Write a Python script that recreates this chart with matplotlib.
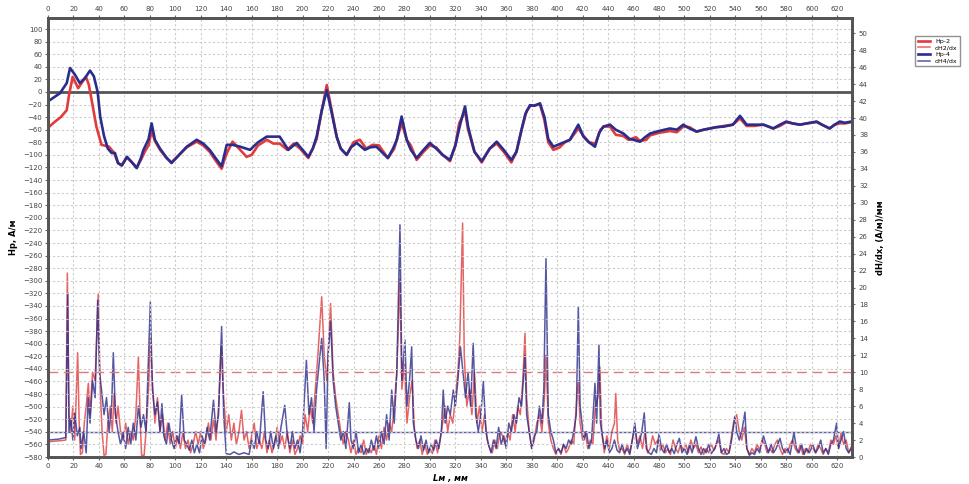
import numpy as np
import matplotlib
matplotlib.use("Agg")
import matplotlib.pyplot as plt

# Hp-2 (red): x in mm, Hp in A/m
hp2_x = [0, 5, 10, 14.7, 16.5, 19.4, 23.7, 27, 29.8, 32, 34.3, 38, 42, 48, 52, 55, 58, 62, 66, 69.7,
         73, 76, 79, 81.4, 84, 88, 93, 97, 103, 109, 116.8, 122, 127, 132, 136.4, 139, 141, 145, 150, 156,
         160, 165, 172, 177, 182, 188, 193, 198, 204.5, 208, 211, 215, 219, 222, 226.8, 230, 234.6, 240, 245, 250,
         255, 260, 267, 272, 276, 278, 281.8, 285, 289.6, 295, 300, 305, 310, 315.8, 320, 323, 327.6, 330, 335, 340.7,
         347, 352.5, 358, 364, 368, 372, 376, 379, 386.5, 390, 393, 397, 402, 406, 410, 416.6, 420, 425, 430, 434,
         437, 441.5, 446, 452, 456, 462, 465, 470, 473, 480, 488.6, 494, 499, 504, 509.5, 515, 520, 525, 531, 538,
         543.6, 548.8, 555, 562, 569.7, 575, 580, 585, 590.7, 596, 603.8, 608, 614, 618, 622, 626, 631]
hp2_y = [-57, -48, -40, -29, -5, 24, 6, 16, 24, 12, -13, -55, -84, -87, -97, -113, -116, -104, -112, -120,
         -108, -95, -85, -62, -78, -92, -105, -112, -100, -88, -79, -85, -95, -110, -122, -105, -95, -79, -90, -103,
         -100, -85, -76, -82, -82, -92, -82, -90, -105, -90, -75, -30, 11, -20, -72, -90, -100, -80, -76, -90,
         -84, -85, -105, -90, -62, -50, -76, -85, -108, -95, -85, -88, -100, -110, -85, -50, -30, -60, -95, -112,
         -90, -82, -95, -112, -95, -60, -30, -22, -20, -45, -80, -92, -88, -80, -76, -58, -68, -80, -82, -60,
         -55, -55, -68, -70, -76, -72, -78, -76, -69, -65, -62, -64, -55, -56, -63, -60, -58, -56, -54, -52,
         -42, -54, -54, -52, -58, -54, -48, -50, -52, -50, -48, -52, -58, -52, -50, -50, -48]

# Hp-4 (blue)
hp4_x = [0, 5, 9.4, 14.7, 17.3, 21, 25, 29, 33, 36, 39, 41, 44, 47, 50, 52.6, 55, 58, 62, 66,
         69.7, 73, 75, 79, 81.4, 84, 88, 93, 97, 103, 109, 116.8, 122, 127, 132, 136.4, 138.5, 140.4, 145, 151,
         158.7, 165, 171.8, 177, 182, 188.8, 195.3, 200, 204.5, 208, 211, 215, 219, 222, 226.8, 230, 234.6, 238, 242.5, 249,
         253, 258, 262, 267, 271, 274, 277.8, 281.8, 285, 289.6, 295, 300, 305, 310, 315.8, 320, 324, 327.6, 330, 335,
         340.7, 347, 352.5, 358, 364, 368, 372, 375, 378.6, 382, 386.5, 390, 393, 397, 403, 410, 413, 416.6, 420.6, 425,
         429.7, 433, 436.2, 441.5, 446, 452, 457, 460, 465, 469, 473, 480, 488.6, 494, 499, 504, 509.5, 515, 520, 525,
         531, 538, 543.6, 548.8, 555, 562, 566, 569.7, 575, 580, 585, 590.7, 596, 603.8, 608, 614, 618, 622, 626, 631]
hp4_y = [-15, -8, -2, 14, 38, 28, 14, 22, 34, 25, 0, -39, -70, -90, -97, -97, -113, -117, -103, -112,
         -121, -105, -92, -75, -50, -76, -90, -104, -113, -100, -87, -76, -82, -92, -106, -118, -100, -84, -84, -87,
         -92, -80, -71, -71, -71, -92, -81, -92, -103, -90, -71, -30, 3, -25, -71, -90, -100, -88, -81, -92,
         -88, -87, -95, -105, -90, -76, -39, -76, -92, -105, -92, -81, -90, -100, -108, -85, -50, -23, -55, -95,
         -110, -90, -79, -92, -108, -95, -60, -35, -21, -22, -18, -40, -75, -87, -82, -76, -65, -52, -71, -80,
         -87, -65, -55, -52, -60, -66, -75, -76, -79, -72, -66, -62, -58, -60, -52, -58, -63, -60, -58, -56,
         -55, -52, -38, -52, -52, -52, -55, -58, -52, -47, -50, -52, -50, -47, -52, -58, -52, -47, -49, -47]

# dH2/dx (red), (A/m)/mm
d2_x = [0, 8, 14, 15.2, 16.5, 18, 19.5, 21, 23.3, 24.5, 25.5, 27, 28.5, 30, 31.7, 33, 35, 37, 39.5, 41,
        42.5, 44, 45.5, 47, 49, 50.5, 52, 53.5, 55, 57, 59, 61, 63, 65, 67, 69, 71, 72.5, 73.5, 75.5,
        77, 79, 80.4, 82, 84, 86, 88, 90, 92, 94, 96, 98, 100, 102, 104, 106, 108, 110, 112, 114,
        116, 118, 120, 122, 124, 126, 128, 130, 132, 134, 136, 138, 140, 142, 144, 146, 148, 150, 152, 154,
        156, 158, 160, 162, 164, 166, 168, 170, 172, 174, 176, 178, 180, 182, 184, 186, 188, 190, 192, 194,
        196, 198, 200, 202, 204, 206, 208, 210, 212, 215, 217, 219, 222, 224, 226, 228, 230, 232, 234, 236,
        238, 240, 242, 244, 246, 248, 250, 252, 254, 256, 258, 260, 262, 264, 266, 268, 270, 272, 274, 276.5,
        278, 280, 282, 284, 286, 288, 290, 292, 294, 296, 298, 300, 302, 304, 306, 308, 310, 312, 314, 316,
        318, 320, 322, 323.5, 325.7, 327, 329, 331, 333, 335, 337, 339, 341, 343, 345, 347, 349, 351, 353, 355,
        357, 359, 361, 363, 365, 367, 369, 371, 373, 374.7, 376, 378, 380, 382, 384, 386, 388, 390, 391.2, 393,
        395, 397, 399, 401, 403, 405, 407, 409, 411, 413, 415, 416.6, 418, 420, 422, 424, 426, 428, 430, 432,
        433.5, 435, 437, 439, 441, 443, 445, 446, 447.5, 449, 451, 453, 455, 457, 459, 461, 463, 465, 467, 469,
        471, 473, 475, 477, 479, 481, 483, 485, 487, 489, 491, 493, 495, 497, 499, 501, 503, 505, 507, 509,
        511, 513, 515, 517, 519, 521, 523, 525, 527, 529, 531, 533, 535, 537, 539, 541, 543, 545, 547, 549,
        551, 553, 555, 557, 559, 561, 563, 565, 567, 569, 571, 573, 575, 577, 579, 581, 583, 585, 587, 589,
        591, 593, 595, 597, 599, 601, 603, 605, 607, 609, 611, 613, 615, 617, 619, 621, 623, 625, 627, 629, 631]
d2_y = [1.8, 1.9, 2.0, 21.7, 5, 3, 6, 2, 12.3, 4, 0.3, 0.5, 4, 6, 8.7, 5, 10, 9, 19.3, 8,
        3, 0.2, 0.3, 4, 6, 3, 7.5, 4, 6, 3, 2, 4, 1.5, 3, 2, 5, 11.8, 4, 0.2, 0.2,
        3, 8, 14, 9, 4, 7, 3, 5, 2, 4, 1.5, 3, 1, 2.5, 1, 3, 1, 2, 0.5, 1.5,
        3, 1.5, 3, 1, 2, 4, 2, 4.5, 2, 6, 13, 7, 3, 5, 2, 4, 1.5, 3, 5.5, 2,
        3, 1, 2.5, 4, 1, 2, 1, 3, 0.5, 2, 0.5, 1.5, 3.5, 1.5, 2.5, 1, 3, 0.5, 2, 0.3,
        1, 2.5, 1.5, 5, 3, 6, 4, 8, 12, 18.9, 12, 9, 18.1, 10, 7, 5, 3, 1.5, 3, 2,
        0.5, 2, 0.3, 1, 0.5, 2, 0.3, 1, 0.5, 1.5, 0.3, 2.5, 1, 3.5, 2, 4, 3, 6, 10, 21,
        8, 11, 4, 7, 9, 3, 1, 2, 0.3, 1.5, 0.3, 1, 0.4, 2, 0.5, 2, 4, 6, 3, 5,
        4, 7, 10, 14, 27.6, 12, 6, 8, 5, 10, 4, 6, 3, 5, 2, 1, 0.5, 2, 1, 3,
        2.5, 1.5, 3, 2, 5, 3, 6, 5, 9, 14.6, 7, 3, 1, 2, 4, 5, 3, 7, 12, 4,
        2, 1, 0.3, 1, 0.3, 1.5, 0.5, 1, 2, 1.5, 6, 9, 4, 2, 3, 1, 2, 1.5, 6, 7,
        10.6, 3, 0.5, 2.5, 1, 3, 4, 7.5, 2, 0.8, 1, 0.3, 1.5, 0.5, 2, 3.5, 1.5, 2.5, 1, 3,
        0.5, 1, 2.5, 1.5, 2, 0.8, 1.5, 0.5, 1, 0.3, 2, 1, 0.5, 1.5, 0.8, 1.5, 0.5, 2, 1, 1.5,
        0.5, 1.2, 0.3, 1, 0.5, 1.5, 0.8, 1.5, 2, 0.5, 0.3, 1, 0.5, 2.5, 4.5, 5.0, 3, 2, 3.5, 1,
        0.3, 1, 0.5, 1.5, 0.8, 2, 1.5, 0.5, 1, 0.5, 1.5, 2, 1, 0.3, 1, 0.5, 1.5, 2, 1, 0.5,
        1.5, 0.3, 1, 0.5, 1.5, 1, 0.5, 1.5, 1, 0.3, 1, 0.5, 2, 1.5, 2.5, 1, 2.8, 1.5, 2, 0.5, 1.2]

# dH4/dx (blue)
d4_x = [0, 8, 14, 15.5, 16.5, 18, 19.5, 21, 23, 25, 26, 28, 30, 31.5, 33, 35, 37, 39, 40.5, 42,
        44, 46, 48, 50, 51.3, 53, 55, 57, 59, 61, 63, 65, 67, 69, 71, 73, 75, 77, 80.4, 82,
        84, 86, 88, 89.5, 91, 93, 95, 97, 99, 101, 103, 105, 107, 109, 111, 113, 115, 117, 119, 121,
        123, 125, 127, 130, 132, 134, 136.4, 138, 140, 143, 146, 150, 154, 158, 160, 162, 164, 166, 169, 171,
        173, 175, 177, 179, 181, 183, 186, 188, 190, 192, 194, 196, 198, 200, 203, 205, 207, 209, 211, 213,
        215, 217, 218.5, 220, 222, 224, 226, 228, 230, 232, 234, 236.7, 238, 240, 242, 244, 246, 248, 250, 252,
        254, 256, 258, 260, 262, 264, 266, 268, 270, 272, 274, 276.5, 278, 280.4, 282, 284, 285.7, 287, 289, 291,
        293, 295, 297, 299, 301, 303, 305, 307, 309, 310.5, 312, 314, 316, 318.4, 320, 322, 324, 326, 328, 330,
        332, 334, 336, 338, 340, 342, 344, 346, 348, 350, 352, 354, 356, 358, 360, 362, 364, 366, 368, 370,
        372, 374.7, 376, 378, 380, 382, 384, 386, 388, 389.5, 391.2, 393, 395, 397, 399, 401, 403, 405, 407, 409,
        411, 413, 415, 416.6, 418, 419.5, 421, 423, 425, 427, 429.7, 431, 432.8, 434, 436, 437.5, 439, 441, 443, 445,
        447, 449, 451, 453, 455, 457, 459, 461, 463, 465, 466.5, 468.4, 470, 472, 474, 476, 478, 480, 482, 484,
        486, 488, 490, 492, 494, 496, 498, 500, 502, 504, 506, 509, 511, 513, 515, 517, 519, 521, 524, 527,
        529, 531, 533, 535, 537, 539.7, 541, 543, 545, 547.5, 549, 551, 553, 555, 557, 559, 562, 564, 566, 568,
        570, 572, 575, 577, 579, 581, 583, 586, 588, 590, 592, 594, 596, 598, 601, 603, 605, 607, 609, 611,
        613, 615, 617, 619.5, 621, 623, 625, 627, 629, 631]
d4_y = [2.0, 2.1, 2.3, 19.3, 3, 4.5, 2, 5.2, 2.5, 3.5, 1.0, 3, 0.5, 7, 4, 9, 7, 18.5, 10, 8,
        5, 7, 3, 6, 12.3, 5, 3, 1.5, 2.8, 1, 3.5, 1.5, 4, 2, 6, 3.5, 5, 3, 18.3, 8,
        5, 6.5, 3, 6.3, 2.5, 1.5, 4, 2, 1, 2.5, 1.5, 7.3, 2, 1.5, 0.8, 2, 0.5, 1.5, 0.5, 2.5,
        1.5, 3.5, 2, 6.7, 3, 5, 15.4, 5, 0.4, 0.3, 0.6, 0.3, 0.5, 0.3, 2, 1, 3, 1.5, 7.7, 2,
        1, 3, 1, 2.5, 1, 3.5, 6.1, 2.5, 1, 3, 1, 2, 0.5, 3, 11.4, 5, 7, 3, 8, 11,
        14, 9, 1.0, 12, 16, 9, 6, 4, 2, 3, 1, 6.4, 2, 1, 3, 0.5, 1.5, 0.3, 1, 0.5,
        2, 0.8, 2.5, 1, 3, 1.5, 5, 2, 7.9, 4, 10, 27.4, 9, 13.8, 6, 9, 13, 4, 2, 1,
        2.5, 0.8, 2, 0.5, 1.5, 0.8, 2, 1, 3, 7.9, 4, 6, 5, 7.9, 6, 9, 13, 10, 7, 10,
        6, 13.4, 5, 3, 5, 8.9, 3, 1.5, 0.5, 2, 1, 3.5, 1.5, 2.5, 1, 4, 3, 5, 4, 7,
        6, 12, 5, 3, 1, 2.5, 3, 6, 4, 8, 23.4, 5, 3, 2, 0.5, 1, 0.5, 1.5, 1, 2,
        1.5, 3, 5, 17.7, 6, 4, 2, 3, 1, 2, 8.7, 4, 13.2, 4, 2, 1, 2, 0.5, 1, 2,
        0.8, 0.5, 1.5, 0.5, 1, 0.3, 2, 4, 1, 2, 3, 5.2, 1, 0.5, 0.3, 1, 0.5, 2.7, 1, 0.5,
        1.5, 0.5, 1, 0.4, 1.5, 2.2, 0.5, 1, 0.3, 1.5, 0.5, 2.4, 1, 0.3, 1, 0.5, 1.5, 0.4, 1, 2.7,
        0.5, 1, 0.3, 0.5, 2, 4.8, 3, 2, 3, 5.3, 1, 0.2, 0.5, 0.3, 1, 0.5, 2.5, 1.5, 0.5, 1.5,
        0.5, 1, 2.2, 1, 0.5, 1, 0.3, 2.9, 1, 0.5, 1.5, 0.3, 1, 0.5, 1.4, 0.5, 1, 2, 0.5, 1,
        0.3, 1.5, 2, 4.0, 1, 2, 3, 1, 0.5, 1]

# reference levels
h_zero = 0
d2_level = 10
d4_level = 2.9

x_ticks = np.arange(0, 621, 20)
h_ticks = np.arange(-580, 101, 20)
d_ticks = np.arange(0, 51, 2)

red = "#e03c3c"
blue = "#2a2d8c"

plt.rcParams["font.family"] = "DejaVu Sans"
fig = plt.figure(figsize=(9.7, 4.84), dpi=100)
ax = fig.add_axes([48 / 970, 1 - 457 / 484, (852 - 48) / 970, (457 - 18) / 484])
ax2 = ax.twinx()

ax.set_xlim(0, 631.6)
ax.set_ylim(-580, 117.5)
ax2.set_ylim(0, 51.8)

ax.set_xticks(x_ticks)
ax.set_yticks(h_ticks)
ax2.set_yticks(d_ticks)
ax.tick_params(labelsize=5, length=2, color="#666666", labelcolor="#444444",
               top=True, labeltop=True, pad=2)
ax2.tick_params(labelsize=5, length=2, color="#666666", labelcolor="#444444", pad=3)

ax.grid(True, color="#cccccc", linestyle=(0, (2, 2)), linewidth=0.8)
ax.set_axisbelow(True)
for a in (ax, ax2):
    for s in a.spines.values():
        s.set_linewidth(2)
        s.set_color("#555555")

# derivative curves and levels (right axis)
ax2.plot(d2_x, d2_y, color=red, lw=1.1, alpha=0.8, label="dH2/dx")
ax2.plot(d4_x, d4_y, color=blue, lw=1.1, alpha=0.8, label="dH4/dx")
ax2.axhline(d2_level, color="#e07a7a", lw=1.0, dashes=(7, 4))
ax2.axhline(d4_level, color="#5a5aa8", lw=1.0)

# field curves (left axis), drawn on top
ax.axhline(h_zero, color="#555555", lw=2)
ax.set_zorder(ax2.get_zorder() + 1)
ax.patch.set_visible(False)
ax.plot(hp2_x, hp2_y, color=red, lw=1.9, label="Hp-2")
ax.plot(hp4_x, hp4_y, color=blue, lw=1.9, label="Hp-4")

ax.set_ylabel("Hp, A/м", fontsize=6, fontweight="bold", labelpad=4)
ax2.set_ylabel("dH/dx, (A/м)/мм", fontsize=6, fontweight="bold", labelpad=6)
ax.set_xlabel("Lм , мм", fontsize=6, style="italic", fontweight="bold", labelpad=4)

h1, l1 = ax.get_legend_handles_labels()
h2, l2 = ax2.get_legend_handles_labels()
handles = [h1[0], h2[0], h1[1], h2[1]]
labels = [l1[0], l2[0], l1[1], l2[1]]
leg = fig.legend(handles, labels, loc="upper left", bbox_to_anchor=(912 / 970, 1 - 33 / 484),
                 fontsize=4.5, frameon=True, handlelength=2, borderpad=0.4, labelspacing=0.2,
                 fancybox=False, edgecolor="#777777")

fig.savefig("out.png", dpi=100)
